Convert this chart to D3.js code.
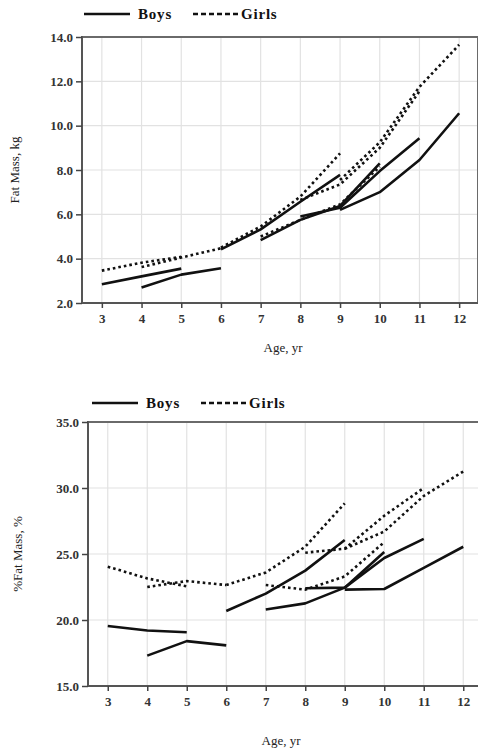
<!DOCTYPE html>
<html>
<head>
<meta charset="utf-8">
<script src="https://cdn.jsdelivr.net/npm/d3@7"></script>
<style>
  html, body { margin: 0; padding: 0; background: #fff; }
  svg { display: block; }
</style>
</head>
<body>
<svg id="chart" width="478" height="751"></svg>
<script>
// ---------------- DATA ----------------
const ageTicks = [3, 4, 5, 6, 7, 8, 9, 10, 11, 12];
const cohortAges = [[3,4,5],[4,5,6],[6,7,8,9],[7,8,9,10],[8,9,10,11],[9,10,11,12]];

const fatMassTicks = [2.0, 4.0, 6.0, 8.0, 10.0, 12.0, 14.0];
const fatMassBoys = [[2.85,3.2,3.55],[2.7,3.28,3.57],[4.42,5.32,6.57,7.78],[4.84,5.75,6.38,8.3],[5.9,6.3,7.95,9.43],[6.2,7.0,8.45,10.56]];
const fatMassGirls = [[3.46,3.82,4.08],[3.62,4.05,4.47],[4.5,5.45,6.8,8.75],[5.0,5.75,6.45,8.15],[6.65,7.35,9.0,11.55],[7.55,9.25,11.75,13.65]];

const pctFatTicks = [15.0, 20.0, 25.0, 30.0, 35.0];
const pctFatBoys = [[19.55,19.2,19.07],[17.3,18.4,18.08],[20.68,22.0,23.74,26.06],[20.8,21.26,22.45,25.15],[22.4,22.45,24.7,26.15],[22.3,22.35,23.95,25.55]];
const pctFatGirls = [[24.04,23.15,22.55],[22.5,22.95,22.65],[22.65,23.6,25.55,28.84],[22.65,22.3,23.3,25.9],[25.1,25.4,27.9,30.0],[25.4,26.7,29.4,31.25]];

const legendLabels = ["Boys", "Girls"];
const yTitles = ["Fat Mass, kg", "%Fat Mass, %"];
const xTitle = "Age, yr";

// ---------------- DRAW ----------------
const svg = d3.select("#chart");
const serif = "'Liberation Serif', 'Times New Roman', serif";

function panel(cfg) {
  const g = svg.append("g");
  const x = d3.scaleLinear().domain([2.5, 12.5]).range([cfg.left, cfg.right]);
  const y = d3.scaleLinear().domain(cfg.yDomain).range([cfg.bottom, cfg.top]);

  // grid
  g.append("g").selectAll("line.v").data(ageTicks).join("line")
    .attr("x1", d => x(d)).attr("x2", d => x(d))
    .attr("y1", cfg.top).attr("y2", cfg.bottom)
    .attr("stroke", "#e2e2e2").attr("stroke-width", 1.2);
  g.append("g").selectAll("line.h").data(cfg.yTicks).join("line")
    .attr("x1", cfg.left).attr("x2", cfg.right)
    .attr("y1", d => y(d)).attr("y2", d => y(d))
    .attr("stroke", "#e2e2e2").attr("stroke-width", 1.2);

  // frame top / right
  g.append("line").attr("x1", cfg.left).attr("x2", cfg.right)
    .attr("y1", cfg.top).attr("y2", cfg.top)
    .attr("stroke", "#6a6a6a").attr("stroke-width", 2);
  g.append("line").attr("x1", cfg.right - 1).attr("x2", cfg.right - 1)
    .attr("y1", cfg.top).attr("y2", cfg.bottom)
    .attr("stroke", "#6a6a6a").attr("stroke-width", 2);

  // axes
  const xAxis = d3.axisBottom(x).tickValues(ageTicks).tickSize(5).tickSizeOuter(0).tickPadding(6);
  const gx = g.append("g").attr("transform", `translate(0,${cfg.bottom})`).call(xAxis);
  const yAxis = d3.axisLeft(y).tickValues(cfg.yTicks).tickSize(6).tickSizeOuter(0).tickPadding(3)
    .tickFormat(d3.format(".1f"));
  const gy = g.append("g").attr("transform", `translate(${cfg.left},0)`).call(yAxis);
  [gx, gy].forEach(a => {
    a.select(".domain").attr("stroke", "#555").attr("stroke-width", 2);
    a.selectAll(".tick line").attr("stroke", "#444").attr("stroke-width", 1.5);
    a.selectAll(".tick text").attr("font-family", serif).attr("font-weight", "bold")
      .attr("font-size", 13).attr("fill", "#333");
  });
  gy.select(".domain").attr("d", `M0,${cfg.top - 1}V${cfg.bottom}`);
  gx.select(".domain").attr("d", `M${cfg.left},0H${cfg.right}`);

  // lines
  const line = d3.line().x(d => x(d[0])).y(d => y(d[1]));
  const mk = (vals) => vals.map((v, i) => v.map((val, j) => [cohortAges[i][j], val]));
  g.append("g").selectAll("path.girls").data(mk(cfg.girls)).join("path")
    .attr("d", line).attr("fill", "none").attr("stroke", "#111")
    .attr("stroke-width", 2.6).attr("stroke-dasharray", "2.6,3");
  g.append("g").selectAll("path.boys").data(mk(cfg.boys)).join("path")
    .attr("d", line).attr("fill", "none").attr("stroke", "#111")
    .attr("stroke-width", 2.6).attr("stroke-linejoin", "round");

  // titles
  g.append("text").attr("x", cfg.xTitleX).attr("y", cfg.xTitleY)
    .attr("text-anchor", "middle").attr("font-family", serif).attr("font-size", 13)
    .attr("fill", "#222").text(xTitle);
  g.append("text")
    .attr("transform", `translate(${cfg.yTitleX},${(cfg.top + cfg.bottom) / 2}) rotate(-90)`)
    .attr("text-anchor", "middle").attr("font-family", serif).attr("font-size", 13)
    .attr("fill", "#222").text(cfg.yTitle);

  // legend
  const lg = svg.append("g").attr("transform", `translate(${cfg.legX},${cfg.legY})`);
  lg.append("line").attr("x1", 0).attr("x2", 46).attr("y1", 0).attr("y2", 0)
    .attr("stroke", "#111").attr("stroke-width", 2.6);
  lg.append("text").attr("x", 54).attr("y", 5).attr("font-family", serif)
    .attr("font-weight", "bold").attr("font-size", 15).attr("letter-spacing", 0.8)
    .attr("fill", "#111").text(legendLabels[0]);
  lg.append("line").attr("x1", 109).attr("x2", 156).attr("y1", 0).attr("y2", 0)
    .attr("stroke", "#111").attr("stroke-width", 2.6).attr("stroke-dasharray", "5,3");
  lg.append("text").attr("x", 157).attr("y", 5).attr("font-family", serif)
    .attr("font-weight", "bold").attr("font-size", 15).attr("letter-spacing", 0.8)
    .attr("fill", "#111").text(legendLabels[1]);
}

panel({
  left: 82, right: 479, top: 37, bottom: 303,
  yDomain: [2, 14], yTicks: fatMassTicks,
  boys: fatMassBoys, girls: fatMassGirls,
  yTitle: yTitles[0], yTitleX: 19, xTitleX: 283, xTitleY: 352,
  legX: 84, legY: 14
});

panel({
  left: 88, right: 483, top: 422, bottom: 686,
  yDomain: [15, 35], yTicks: pctFatTicks,
  boys: pctFatBoys, girls: pctFatGirls,
  yTitle: yTitles[1], yTitleX: 22, xTitleX: 281, xTitleY: 745,
  legX: 92, legY: 403
});
</script>
</body>
</html>
